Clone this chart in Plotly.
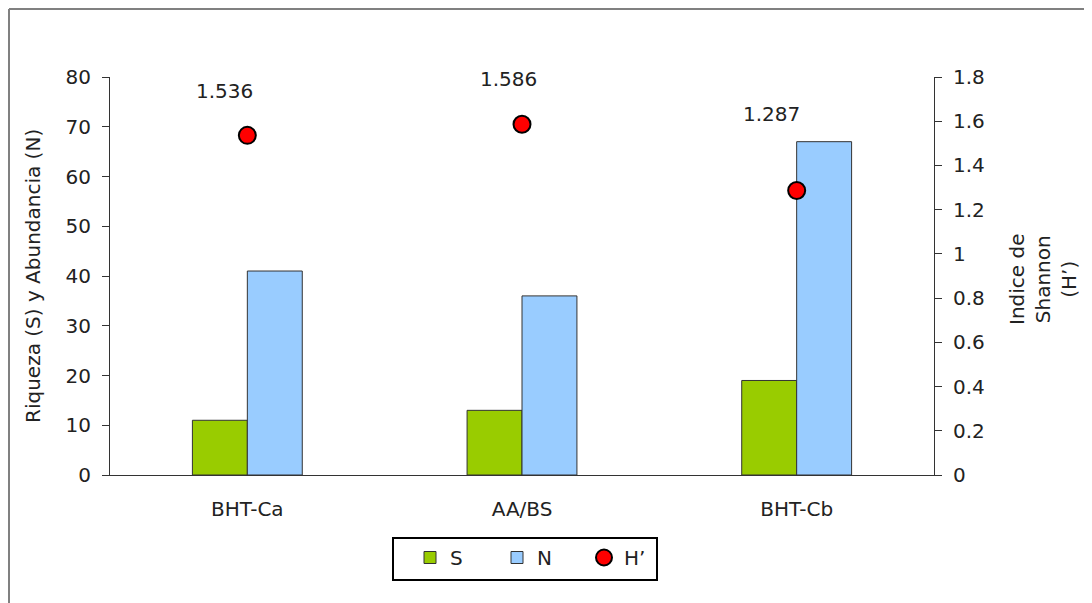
import plotly.graph_objects as go

categories = ["BHT-Ca", "AA/BS", "BHT-Cb"]
riqueza_S = [11, 13, 19]
abundancia_N = [41, 36, 67]
shannon_H = [1.536, 1.586, 1.287]

# label placement offsets (px) for the H' data labels
label_xshift = [-23, -14, -25]
label_yshift = [44, 45, 76]

FONT = "DejaVu Sans"
FS = 20
TXT = "#222222"
W, H = 1092, 603
# plot area in figure pixel coords (page has an 8px body margin)
L, R, T, B = 102, 926, 69, 467

fig = go.Figure()
fig.add_trace(go.Bar(
    x=categories, y=riqueza_S, name="S",
    marker=dict(color="#99CC00", line=dict(color="#333333", width=1)),
))
fig.add_trace(go.Bar(
    x=categories, y=abundancia_N, name="N",
    marker=dict(color="#99CCFF", line=dict(color="#333333", width=1)),
))
fig.add_trace(go.Scatter(
    x=categories, y=shannon_H, name="H\u2019", yaxis="y2", mode="markers",
    marker=dict(color="#FF0000", size=17, line=dict(color="#000000", width=2)),
))

for c, v, dx, dy in zip(categories, shannon_H, label_xshift, label_yshift):
    fig.add_annotation(x=c, y=v, yref="y2", text=f"{v:.3f}", showarrow=False,
                       xshift=dx, yshift=dy, font=dict(family=FONT, size=FS, color=TXT))

def px_x(px):
    return (px - L) / (R - L)

def px_y(py):
    return (B - py) / (B - T)

# outer chart border (top and left edges visible)
fig.add_shape(type="line", xref="paper", yref="paper",
              x0=px_x(1), x1=px_x(1200), y0=px_y(1), y1=px_y(1),
              line=dict(color="#808080", width=2))
fig.add_shape(type="line", xref="paper", yref="paper",
              x0=px_x(1), x1=px_x(1), y0=px_y(1), y1=px_y(700),
              line=dict(color="#808080", width=2))

# legend frame
fig.add_shape(type="rect", xref="paper", yref="paper",
              x0=px_x(385), x1=px_x(649), y0=px_y(530), y1=px_y(572),
              line=dict(color="#000000", width=2), fillcolor="rgba(0,0,0,0)")

# axis titles
fig.add_annotation(xref="paper", yref="paper", x=px_x(25), y=px_y(268),
                   xanchor="center", yanchor="middle",
                   text="Riqueza (S) y Abundancia (N)", textangle=-90, showarrow=False,
                   font=dict(family=FONT, size=FS, color=TXT))
fig.add_annotation(xref="paper", yref="paper", x=px_x(1035), y=px_y(272),
                   xanchor="center", yanchor="middle",
                   text="Indice de<br>Shannon<br>(H\u2019)", textangle=-90, showarrow=False,
                   font=dict(family=FONT, size=FS, color=TXT))

fig.update_layout(
    width=W, height=H,
    margin=dict(l=L, r=W - R, t=T, b=H - B, pad=0),
    paper_bgcolor="white", plot_bgcolor="white",
    barmode="group", bargap=0.6, bargroupgap=0,
    font=dict(family=FONT, size=FS, color=TXT),
    showlegend=True,
    legend=dict(
        orientation="h", x=px_x(402), y=px_y(530), xanchor="left", yanchor="top",
        borderwidth=0, bgcolor="rgba(0,0,0,0)",
        font=dict(family=FONT, size=FS, color=TXT),
        entrywidth=42, itemwidth=30, traceorder="normal",
    ),
    xaxis=dict(
        showline=True, linecolor="#333333", linewidth=1, ticks="",
        showgrid=False, ticklabelstandoff=16,
        tickfont=dict(family=FONT, size=FS, color=TXT),
    ),
    yaxis=dict(
        range=[0, 80], dtick=10, showline=True, linecolor="#333333", linewidth=1,
        ticks="outside", ticklen=7, tickcolor="#333333", showgrid=False, zeroline=False,
        ticklabelstandoff=7, tickfont=dict(family=FONT, size=FS, color=TXT),
    ),
    yaxis2=dict(
        range=[0, 1.8], dtick=0.2, overlaying="y", side="right", anchor="x",
        showline=True, linecolor="#333333", linewidth=1,
        ticks="outside", ticklen=7, tickcolor="#333333", showgrid=False, zeroline=False,
        ticklabelstandoff=7, tickformat="~g",
        tickfont=dict(family=FONT, size=FS, color=TXT),
    ),
)

fig.write_html("out.html")
